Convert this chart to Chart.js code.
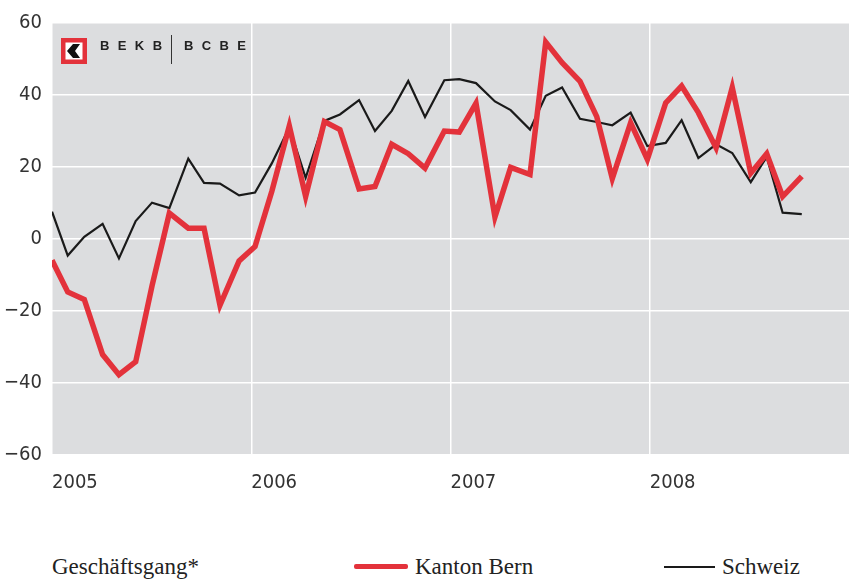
<!DOCTYPE html>
<html>
<head>
<meta charset="utf-8">
<script src="https://cdn.jsdelivr.net/npm/chart.js@4.4.1/dist/chart.umd.min.js"></script>
<style>
  html, body { margin: 0; padding: 0; background: #ffffff; }
  #wrap { position: relative; width: 849px; height: 580px; overflow: hidden; }
  #c { position: absolute; left: 0; top: 0; }
  .logo { position: absolute; left: 61px; top: 38px; height: 26px; }
  .logo svg { position: absolute; left: 0; top: 0; }
  .logo .t { position: absolute; top: 0px; font-family: "Liberation Sans", Arial, sans-serif; font-weight: bold; font-size: 13px; line-height: 16px; color: #222; letter-spacing: 8.4px; white-space: nowrap; }
  .logo .sep { position: absolute; left: 110px; top: -3px; width: 1px; height: 29px; background: #333; }
  .leg { position: absolute; top: 553px; font-family: "Liberation Serif", "Times New Roman", serif; font-size: 23px; color: #222; white-space: nowrap; line-height: 28px; }
  .sw { position: absolute; }
</style>
</head>
<body>
<div id="wrap">
  <canvas id="c" width="849" height="510"></canvas>
  <div class="logo">
    <svg width="26" height="26" viewBox="0 0 26 26">
      <rect x="0" y="0" width="26" height="26" fill="#e3323b"/>
      <rect x="4.5" y="4.5" width="17" height="17" fill="#ffffff"/>
      <polygon points="6,13 12,6 19,6 14,13 19,20 12,20" fill="#111"/>
    </svg>
    <span class="t" style="left:39px;">BEKB</span>
    <span class="sep"></span>
    <span class="t" style="left:123px;">BCBE</span>
  </div>
  <div class="leg" style="left:52px;">Geschäftsgang*</div>
  <div class="sw" style="left:354px; top:564px; width:54px; height:5px; background:#e3323b; border-radius:2px;"></div>
  <div class="leg" style="left:415px;">Kanton Bern</div>
  <div class="sw" style="left:664px; top:566px; width:51px; height:2px; background:#1a1a1a;"></div>
  <div class="leg" style="left:722px;">Schweiz</div>
</div>
<script>
// Survey dates (decimal years)
const dates = [
  2005.000, 2005.079, 2005.162, 2005.254, 2005.336, 2005.420, 2005.502, 2005.589, 2005.684, 2005.763,
  2005.843, 2005.939, 2006.019, 2006.103, 2006.191, 2006.273, 2006.367, 2006.445, 2006.541, 2006.621,
  2006.705, 2006.788, 2006.872, 2006.969, 2007.044, 2007.128, 2007.223, 2007.302, 2007.399, 2007.478,
  2007.560, 2007.650, 2007.734, 2007.812, 2007.904, 2007.988, 2008.080, 2008.160, 2008.244, 2008.333,
  2008.414, 2008.507, 2008.587, 2008.667, 2008.763
];
const kantonBern = [
  -5.9, -14.7, -16.8, -32.1, -37.7, -34.1, -13.0, 7.2, 3.0, 3.0,
  -18.4, -6.1, -2.1, 13.2, 31.4, 11.8, 32.6, 30.4, 13.9, 14.6,
  26.3, 23.7, 19.7, 30.0, 29.7, 37.7, 6.1, 19.9, 17.9, 54.7,
  49.0, 43.8, 34.0, 16.8, 32.3, 22.1, 37.8, 42.5, 35.1, 25.3,
  42.1, 18.3, 23.7, 11.8, 17.4
];
const schweiz = [
  7.6, -4.6, 0.6, 4.2, -5.4, 5.0, 10.1, 8.6, 22.3, 15.6,
  15.4, 12.1, 12.9, 21.0, 31.0, 17.0, 32.8, 34.6, 38.6, 30.0,
  35.6, 43.9, 33.9, 44.1, 44.4, 43.3, 38.2, 35.8, 30.4, 39.8,
  42.1, 33.4, 32.5, 31.6, 35.1, 25.8, 26.7, 33.0, 22.5, 26.3,
  23.9, 15.8, 22.8, 7.3, 6.9
];
const yearTicks = [2005, 2006, 2007, 2008];
const seriesNames = ['Kanton Bern', 'Schweiz'];

const toPoints = (vals) => vals.map((v, i) => ({ x: dates[i], y: v }));

const bgPlugin = {
  id: 'bg',
  beforeDraw(chart) {
    const { ctx, chartArea: a } = chart;
    ctx.save();
    ctx.fillStyle = '#dcdddf';
    ctx.fillRect(a.left, a.top, a.right - a.left, a.bottom - a.top);
    ctx.restore();
  }
};

const tickFont = { family: '"Liberation Sans Narrow", "DejaVu Sans Condensed", "Liberation Sans", sans-serif', size: 20 };

new Chart(document.getElementById('c'), {
  type: 'line',
  data: {
    datasets: [
      { label: seriesNames[0], data: toPoints(kantonBern), borderColor: '#e3323b', borderWidth: 5.5, pointRadius: 0, tension: 0, fill: false },
      { label: seriesNames[1], data: toPoints(schweiz), borderColor: '#1a1a1a', borderWidth: 2.2, pointRadius: 0, tension: 0, fill: false }
    ]
  },
  options: {
    responsive: false,
    animation: false,
    devicePixelRatio: 1,
    layout: { padding: { top: 23, right: 0, left: 0, bottom: 0 } },
    plugins: { legend: { display: false }, tooltip: { enabled: false } },
    scales: {
      x: {
        type: 'linear',
        min: 2005,
        max: 2009,
        afterBuildTicks(scale) { scale.ticks = yearTicks.map(v => ({ value: v })); },
        afterFit(scale) { scale.height = 55; },
        ticks: {
          align: 'start',
          color: '#333',
          font: tickFont,
          padding: 16,
          maxRotation: 0,
          callback: (v) => String(v)
        },
        grid: { color: '#ffffff', lineWidth: 1.5, drawTicks: false },
        border: { display: false }
      },
      y: {
        min: -60,
        max: 60,
        afterFit(scale) { scale.width = 52; },
        ticks: {
          stepSize: 20,
          color: '#333',
          font: tickFont,
          padding: 10,
          callback: (v) => v < 0 ? '\u2212' + Math.abs(v) : String(v)
        },
        grid: { color: '#ffffff', lineWidth: 1.5, drawTicks: false },
        border: { display: false }
      }
    }
  },
  plugins: [bgPlugin]
});
</script>
</body>
</html>
